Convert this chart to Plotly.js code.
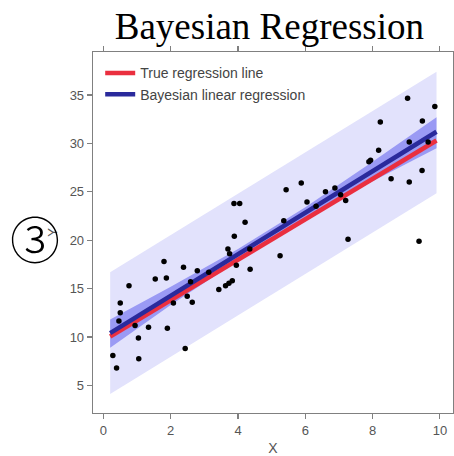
<!DOCTYPE html>
<html>
<head>
<meta charset="utf-8">
<script src="https://cdn.plot.ly/plotly-3.0.1.min.js"></script>
<style>html,body{margin:0;padding:0;background:#fff;}#chart{width:454px;height:456px;}</style>
</head>
<body>
<div id="chart"></div>
<script>
// observed data points
const pointsX = [0.28,0.39,0.46,0.50,0.50,0.76,0.94,1.04,1.05,1.34,1.54,1.80,1.87,1.90,2.08,2.38,2.43,2.49,2.59,2.64,2.79,3.13,3.43,3.63,3.73,3.83,3.70,3.75,3.89,3.88,4.05,4.21,3.95,4.36,4.35,5.25,5.36,5.43,5.88,6.05,6.32,6.60,6.88,7.05,7.20,7.27,7.89,7.94,8.18,8.23,8.55,9.04,9.09,9.09,9.38,9.47,9.48,9.65,9.85];
const pointsY = [8.1,6.8,11.65,12.5,13.5,15.3,11.2,9.9,7.75,11.0,16.0,17.8,16.1,10.9,13.5,17.2,8.8,14.2,15.7,13.6,16.85,16.7,14.9,15.3,15.55,15.8,19.1,18.6,20.4,23.8,23.8,21.85,17.4,17.0,19.1,18.4,22.0,25.2,25.9,23.95,23.5,25.0,25.4,24.7,24.1,20.1,28.1,28.25,29.3,32.2,26.35,34.65,30.15,26.0,19.9,27.2,32.3,30.15,33.8];

// regression lines
const lineX = [0.2, 9.9];
const trueLineY = [10.05, 30.3];
const bayesLineY = [10.4, 31.2];

// credible band of the mean (inner)
const innerX = [0.2, 2, 4, 6, 8, 9.9];
const innerUpper = [11.8, 15.2, 19.1, 23.4, 28.1, 32.7];
const innerLower = [8.9, 13.3, 17.9, 22.2, 26.1, 29.5];

// predictive band (outer)
const outerX = [0.2, 9.9];
const outerUpper = [16.7, 37.4];
const outerLower = [4.1, 24.85];

const xTicks = [0, 2, 4, 6, 8, 10];
const yTicks = [5, 10, 15, 20, 25, 30, 35];

function band(xs, up, lo) {
  return {
    x: xs.concat(xs.slice().reverse()),
    y: up.concat(lo.slice().reverse())
  };
}
const ob = band(outerX, outerUpper, outerLower);
const ib = band(innerX, innerUpper, innerLower);

const traces = [
  {x: ob.x, y: ob.y, type: 'scatter', mode: 'lines', fill: 'toself',
   fillcolor: '#e2e2fc', line: {width: 0}, showlegend: false, hoverinfo: 'skip'},
  {x: ib.x, y: ib.y, type: 'scatter', mode: 'lines', fill: 'toself',
   fillcolor: '#9a9af4', line: {width: 0}, showlegend: false, hoverinfo: 'skip'},
  {x: lineX, y: trueLineY, type: 'scatter', mode: 'lines', name: 'True regression line',
   line: {color: '#ea2f3f', width: 4.5}},
  {x: lineX, y: bayesLineY, type: 'scatter', mode: 'lines', name: 'Bayesian linear regression',
   line: {color: '#2a2a9c', width: 4.5}},
  {x: pointsX, y: pointsY, type: 'scatter', mode: 'markers', showlegend: false,
   marker: {color: '#000', size: 5.5}}
];

const axisCommon = {
  showgrid: false, zeroline: false, showline: true, linecolor: '#808080', linewidth: 1.3,
  ticks: 'outside', ticklen: 5, tickwidth: 1.2, tickcolor: '#808080',
  tickfont: {family: 'Liberation Sans, Arial, sans-serif', size: 13, color: '#555'}
};

const layout = {
  width: 454, height: 456,
  margin: {l: 93, r: 1, t: 52, b: 43},
  paper_bgcolor: '#fff', plot_bgcolor: '#fff',
  title: {text: 'Bayesian Regression', font: {family: 'Liberation Serif, Times New Roman, serif', size: 37, color: '#000'},
          x: 0.49, xref: 'paper', xanchor: 'center', y: 0.943, yanchor: 'middle', yref: 'container'},
  xaxis: Object.assign({}, axisCommon, {range: [-0.31, 10.39], tickvals: xTicks, mirror: 'ticks',
    title: {text: 'X', font: {family: 'Liberation Sans, Arial, sans-serif', size: 14, color: '#555'}, standoff: 6}}),
  yaxis: Object.assign({}, axisCommon, {range: [2.15, 39.44], tickvals: yTicks, mirror: true,
    title: {text: 'Y', font: {family: 'Liberation Sans, Arial, sans-serif', size: 13, color: '#555'}, standoff: 9}}),
  legend: {x: 0.02, y: 0.985, xanchor: 'left', yanchor: 'top', bgcolor: 'rgba(255,255,255,1)',
    font: {family: 'Liberation Sans, Arial, sans-serif', size: 14, color: '#444'}, tracegroupgap: 0},
  annotations: [
    {text: '③', xref: 'paper', yref: 'paper', x: -0.161, y: 0.4875, xanchor: 'center', yanchor: 'middle',
     showarrow: false, font: {family: 'Noto Sans CJK JP, DejaVu Sans, sans-serif', size: 50, weight: 300, color: '#000'}}
  ]
};

Plotly.newPlot('chart', traces, layout, {displayModeBar: false, staticPlot: true});
</script>
</body>
</html>
